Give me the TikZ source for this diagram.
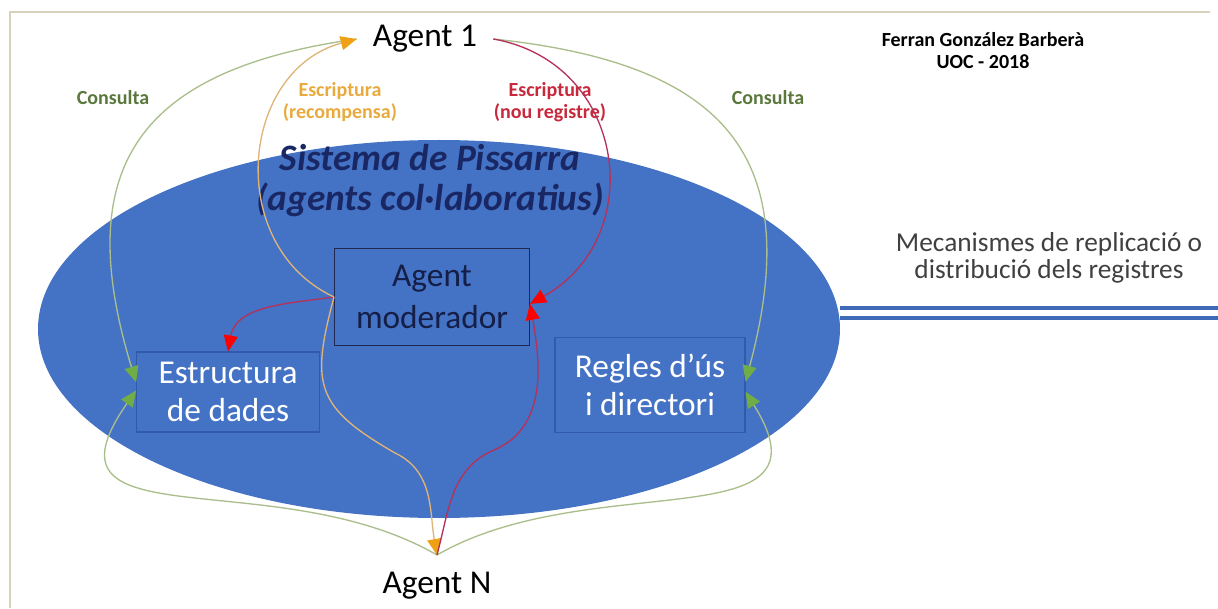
\documentclass[tikz,border=0pt]{standalone}
\usepackage{fontspec}
\setmainfont{Carlito}
\usetikzlibrary{positioning, shapes.geometric, arrows.meta}
\definecolor{boardblue}{RGB}{68,114,196}
\definecolor{sysblue}{RGB}{25,40,100}
\definecolor{partedge}{RGB}{50,90,170}
\definecolor{modedge}{RGB}{30,40,80}
\definecolor{modtext}{RGB}{20,30,70}
\definecolor{wireblue}{RGB}{63,106,184}
\definecolor{framegray}{RGB}{215,210,190}
\definecolor{consultline}{RGB}{170,190,140}
\definecolor{consulttip}{RGB}{112,173,71}
\definecolor{consulttext}{RGB}{90,120,60}
\definecolor{newline}{RGB}{180,50,90}
\definecolor{newtip}{RGB}{255,0,0}
\definecolor{newtext}{RGB}{200,40,60}
\definecolor{rewardline}{RGB}{222,180,120}
\definecolor{rewardtip}{RGB}{240,160,20}
\definecolor{rewardtext}{RGB}{232,170,60}
\definecolor{notegray}{RGB}{64,64,64}

\begin{document}
\begin{tikzpicture}[x=0.75pt, y=0.75pt]
\tikzstyle{board}=[ellipse, fill=boardblue, inner sep=0pt, minimum width=601.5pt, minimum height=283.5pt]
\tikzstyle{agent}=[inner xsep=12pt, inner ysep=0pt, font=\fontsize{25}{30}\selectfont]
\tikzstyle{part}=[draw=partedge, line width=0.8pt, align=center, text=white, font=\fontsize{25}{29}\selectfont]
\tikzstyle{moderator}=[draw=modedge, line width=1pt, align=center, text=modtext, minimum width=146pt, minimum height=73pt, font=\fontsize{25}{32}\selectfont]
\tikzstyle{tag}=[align=center, font=\bfseries\fontsize{15}{16.5}\selectfont]
\tikzstyle{consult}=[line width=1pt, draw=consultline, -{Triangle[length=12pt, width=10.5pt, color=consulttip]}]
\tikzstyle{writenew}=[line width=1pt, draw=newline, -{Triangle[length=12pt, width=10.5pt, color=newtip]}]
\tikzstyle{writereward}=[line width=1pt, draw=rewardline, -{Triangle[length=12pt, width=10.5pt, color=rewardtip]}]
\useasboundingbox (0,0) rectangle (1218,608);
\draw[framegray, line width=1.5pt] (10,0) -- (10,596) -- (1210,596);
% blackboard
\node[board] (board) at (439,279) {};
\node[align=center, text=sysblue, font=\bfseries\itshape\fontsize{28}{30}\selectfont] (sys) at (430,427) {Sistema de Pissarra\\(agents col·laboratius)};
\node[moderator] (mod) at (432,311) {Agent\\moderador};
\node[part, minimum width=137pt, minimum height=60pt] (est) at (228,216) {Estructura\\de dades};
\node[part, minimum width=142.5pt, minimum height=71pt] (reg) at (650,223) {Regles d’ús\\i directori};
% agents
\node[agent] (a1) at (425,569) {Agent 1};
\node[agent] (an) at (437,22) {Agent N};
\coordinate (meet) at (437,53);
\coordinate (obend) at (395,155);
\coordinate (rbend) at (494,158);
% labels
\node[tag, text=consulttext] (cleft) at (113,510) {Consulta};
\node[tag, text=consulttext] (cright) at (768,510) {Consulta};
\node[tag, text=rewardtext] (reward) at (340,506) {Escriptura\\(recompensa)};
\node[tag, text=newtext] (newrec) at (550,506) {Escriptura\\(nou registre)};
\node[tag, font=\bfseries\fontsize{15}{16.5}\selectfont] (author) at (983,557) {Ferran González Barberà\\UOC - 2018};
\node[align=center, text=notegray, font=\fontsize{20.5}{20.5}\selectfont] (note) at (1049,350) {Mecanismes de replicació o\\distribució dels registres};
\coordinate (wireend) at (1218,295);
\draw[wireblue, line width=2.6pt, double=white, double distance=4.8pt] (board.east |- wireend) -- (wireend);
% connectors
\path (a1.west) edge [consult, out=188, in=107, looseness=1.4] (est.174)
      (a1.east) edge [consult, out=-6, in=75, looseness=1.4] (reg.2)
      (meet) edge [consult, out=150, in=235, looseness=1.4] (est.179)
      (meet) edge [consult, out=30, in=-58, looseness=1.3] (reg.-4)
      (a1.east) edge [writenew, out=-10, in=29, looseness=1.3] (mod.-4)
      (mod.west) edge [writenew, out=188, in=80] (est.north)
      (mod.west) edge [writereward, out=155, in=195, looseness=1.2] (a1.west);
\draw[writereward] (mod.west) to[out=255, in=150, looseness=1.4] (obend) to[out=-25, in=100] (meet);
\draw[writenew] (meet) to[out=75, in=203] (rbend) to[out=23, in=-80] (mod.-4);
\end{tikzpicture}
\end{document}
